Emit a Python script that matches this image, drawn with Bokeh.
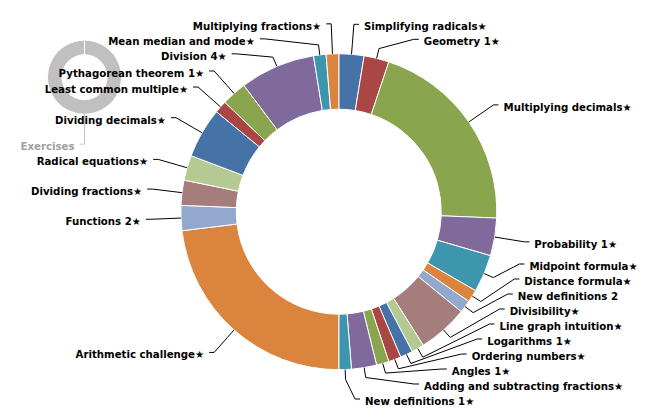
import math
from bokeh.plotting import figure
from bokeh.models import Range1d
from bokeh.embed import file_html
from bokeh.resources import INLINE
from bokeh.core.properties import value

# ---- data (clockwise from 12 o'clock) ----
names = [
    "Simplifying radicals★", "Geometry 1★", "Multiplying decimals★", "Probability 1★",
    "Midpoint formula★", "Distance formula★", "New definitions 2", "Divisibility★",
    "Line graph intuition★", "Logarithms 1★", "Ordering numbers★", "Angles 1★",
    "Adding and subtracting fractions★", "New definitions 1★", "Arithmetic challenge★",
    "Functions 2★", "Dividing fractions★", "Radical equations★", "Dividing decimals★",
    "Least common multiple★", "Pythagorean theorem 1★", "Division 4★",
    "Mean median and mode★", "Multiplying fractions★",
]
counts = [2, 2, 16, 3, 3, 1, 1, 4, 1, 1, 1, 1, 2, 1, 18, 2, 2, 2, 4, 1, 2, 6, 1, 1]
palette = ['#4572A7', '#AA4643', '#89A54E', '#80699B', '#3D96AE',
           '#DB843D', '#92A8CD', '#A47D7C', '#B5CA92']
colors = [palette[i % len(palette)] for i in range(len(counts))]

ex_names = ["Exercises"]
ex_counts = [1]
ex_colors = ["#C0C0C0"]

# ---- layout ----
W, H = 660, 409
FONT = value("DejaVu Sans")


def layout(counts, cx, cy, R, dist=30, conn=10, sp=15, top=16, bottom=398.5):
    total = float(sum(counts))
    acc = 0
    wedges, mids = [], []
    for c in counts:
        t1 = acc / total * 2 * math.pi
        acc += c
        t2 = acc / total * 2 * math.pi
        wedges.append((t1, t2))
        mids.append((t1 + t2) / 2)
    n = len(counts)
    ys = [cy - (R + dist) * math.cos(t) for t in mids]
    right = [mids[i] < math.pi for i in range(n)]
    for side in (True, False):
        idx = sorted([i for i in range(n) if right[i] == side], key=lambda i: ys[i])
        if not idx:
            continue
        ys[idx[0]] = max(ys[idx[0]], top)
        for a, b in zip(idx, idx[1:]):
            ys[b] = max(ys[b], ys[a] + sp)
        ys[idx[-1]] = min(ys[idx[-1]], bottom)
        for k in range(len(idx) - 2, -1, -1):
            ys[idx[k]] = min(ys[idx[k]], ys[idx[k + 1]] - sp)
    out = []
    for i in range(n):
        rl = R + dist
        dx = math.sqrt(max(0.0, rl * rl - (ys[i] - cy) ** 2))
        s = 1 if right[i] else -1
        x = cx + s * dx
        t = mids[i]
        path = [(x + s * 5, ys[i]), (x, ys[i]),
                (cx + (R + conn) * math.sin(t), cy - (R + conn) * math.cos(t)),
                (cx + R * math.sin(t), cy - R * math.cos(t))]
        out.append(dict(x=x + s * 10, y=ys[i] + 2.5, align="left" if right[i] else "right",
                        path=path))
    return wedges, out


p = figure(width=W, height=H, output_backend="svg", toolbar_location=None,
           x_range=Range1d(0, W), y_range=Range1d(0, H), min_border=0)
p.axis.visible = False
p.grid.visible = False
p.outline_line_color = None
p.background_fill_color = "white"


def draw(names, counts, colors, cx, cy, R, r, full=False):
    wedges, labels = layout(counts, cx, cy, R)
    for (t1, t2), col in zip(wedges, colors):
        if full and t2 - t1 >= 2 * math.pi - 1e-9:
            t2 = t1 + 2 * math.pi - 0.002
        p.annular_wedge(x=cx, y=H - cy, inner_radius=r, outer_radius=R,
                        inner_radius_units="screen", outer_radius_units="screen",
                        start_angle=math.pi / 2 - t2, end_angle=math.pi / 2 - t1,
                        direction="anticlock", fill_color=col, line_color="white",
                        line_width=1)
    return labels


def draw_labels(names, labels, text_color, line_color):
    xs = [[pt[0] for pt in l["path"]] for l in labels]
    ys = [[H - pt[1] for pt in l["path"]] for l in labels]
    p.multi_line(xs=xs, ys=ys, line_color=line_color, line_width=1)
    for nm, l in zip(names, labels):
        p.text(x=[l["x"]], y=[H - l["y"]], text=[nm], text_align=l["align"],
               text_baseline="middle", text_font=FONT, text_font_style="bold",
               text_font_size="10.2px", text_color=text_color)


# small exercises ring (behind)
ex_labels = draw(ex_names, ex_counts, ex_colors, 84, 76.7, 37, 22.5, full=True)
draw_labels(ex_names, ex_labels, "#A0A0A0", "#C8C8C8")

# main donut
main_labels = draw(names, counts, colors, 338.3, 211.2, 158, 102.5)
draw_labels(names, main_labels, "#000000", "#000000")

open("out.html", "w").write(file_html(p, INLINE))
